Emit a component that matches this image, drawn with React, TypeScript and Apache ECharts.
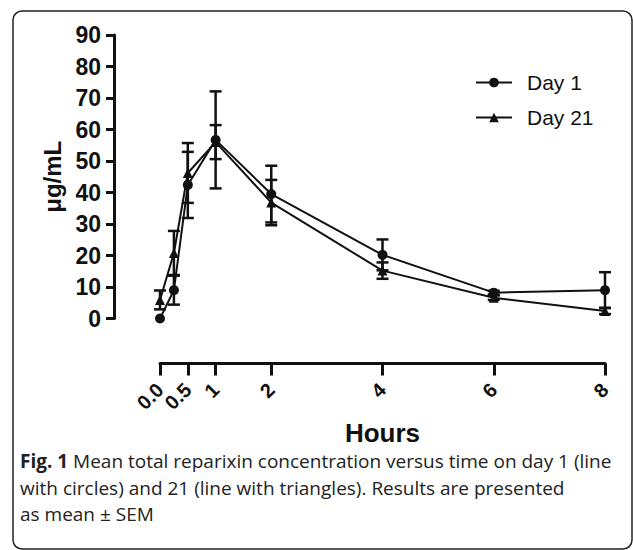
import React, { useEffect, useRef } from "react";
import * as echarts from "echarts";

const hours = [0, 0.25, 0.5, 1, 2, 4, 6, 8];
const day1Mean = [0, 9.0, 42.4, 56.7, 39.5, 20.2, 8.2, 9.0];
const day1Sem = [0, 4.6, 10.5, 15.4, 9.0, 4.9, 0.6, 5.7];
const day21Mean = [5.9, 20.8, 46.2, 56.0, 36.8, 15.2, 6.6, 2.4];
const day21Sem = [3.0, 7.0, 9.5, 5.4, 7.2, 2.6, 0.7, 1.0];
const xTickValues = [0, 0.5, 1, 2, 4, 6, 8];
const xTickLabels = ["0.0", "0.5", "1", "2", "4", "6", "8"];
const seriesNames = ["Day 1", "Day 21"];
const xAxisTitle = "Hours";
const yAxisTitle = "μg/mL";
const captionBold = "Fig. 1";
const captionLines = [
  " Mean total reparixin concentration versus time on day 1 (line",
  "with circles) and 21 (line with triangles). Results are presented",
  "as mean ± SEM",
];

const INK = "#111";
const ARIAL = "'Liberation Sans', Arial, sans-serif";
const CAPTION_FONT = "'Open Sans', 'Noto Sans', sans-serif";

function errData(means: number[], sems: number[]) {
  const out: number[][] = [];
  hours.forEach((h, i) => {
    if (sems[i] > 0) out.push([h, means[i] - sems[i], means[i] + sems[i]]);
  });
  return out;
}

function errorRender(params: any, api: any) {
  const x = api.value(0);
  const lo = api.value(1);
  const hi = api.value(2);
  const top = api.coord([x, hi]);
  const bot = api.coord([x, lo]);
  const w = 6;
  const st = { stroke: INK, lineWidth: 2.5 };
  return {
    type: "group",
    children: [
      { type: "line", shape: { x1: top[0], y1: top[1], x2: bot[0], y2: bot[1] }, style: st },
      { type: "line", shape: { x1: top[0] - w, y1: top[1], x2: top[0] + w, y2: top[1] }, style: st },
      { type: "line", shape: { x1: bot[0] - w, y1: bot[1], x2: bot[0] + w, y2: bot[1] }, style: st },
    ],
  };
}

export default function App() {
  const ref = useRef<HTMLDivElement>(null);
  useEffect(() => {
    if (!ref.current) return;
    const chart = echarts.init(ref.current, undefined, { renderer: "svg" });
    const xLabelMap: Record<string, string> = {};
    xTickValues.forEach((v, i) => (xLabelMap[String(v)] = xTickLabels[i]));
    // split labels over two overlaid axes so that close neighbours are never auto-hidden
    const labelsA = xTickValues.filter((_, i) => i % 2 === 0);
    const labelsB = xTickValues.filter((_, i) => i % 2 === 1);
    const labelBase = {
      showMinLabel: true,
      showMaxLabel: true,
      hideOverlap: false,
      rotate: 45,
      margin: 23,
      fontSize: 20,
      fontWeight: "bold",
      fontFamily: ARIAL,
      color: INK,
      formatter: (v: number) => xLabelMap[String(v)] ?? String(v),
    };
    const capStyle = { fontSize: 19, fontFamily: CAPTION_FONT, fill: "#222", verticalAlign: "middle" };
    chart.setOption({
      animation: false,
      backgroundColor: "#fff",
      grid: { left: 160, right: 28, top: 35, bottom: 231.5, containLabel: false },
      legend: {
        data: seriesNames,
        orient: "vertical",
        left: 470,
        top: 67,
        itemWidth: 36,
        itemHeight: 12,
        itemGap: 14,
        textStyle: { fontSize: 21, fontFamily: ARIAL, color: INK, padding: [0, 0, 0, 10] },
      },
      xAxis: [
        {
          type: "value",
          position: "bottom",
          min: 0,
          max: 8,
          offset: 45,
          name: xAxisTitle,
          nameLocation: "middle",
          nameGap: 54,
          nameTextStyle: { fontSize: 26, fontWeight: "bold", fontFamily: ARIAL, color: INK },
          splitLine: { show: false },
          axisLine: { show: true, onZero: false, lineStyle: { color: INK, width: 3 } },
          axisTick: { show: true, length: 12, lineStyle: { color: INK, width: 3 }, customValues: xTickValues },
          axisLabel: { ...labelBase, customValues: labelsA },
        },
        {
          type: "value",
          position: "bottom",
          min: 0,
          max: 8,
          offset: 45,
          splitLine: { show: false },
          axisLine: { show: false, onZero: false },
          axisTick: { show: false },
          axisLabel: { ...labelBase, customValues: labelsB },
        },
      ],
      yAxis: {
        type: "value",
        min: 0,
        max: 90,
        interval: 10,
        offset: 46,
        name: yAxisTitle,
        nameLocation: "middle",
        nameRotate: 90,
        nameGap: 50,
        nameTextStyle: { fontSize: 24, fontWeight: "bold", fontFamily: ARIAL, color: INK },
        splitLine: { show: false },
        axisLine: { show: true, onZero: false, lineStyle: { color: INK, width: 3 } },
        axisTick: { show: true, length: 8, lineStyle: { color: INK, width: 3 } },
        axisLabel: { margin: 13, fontSize: 23, fontWeight: "bold", fontFamily: ARIAL, color: INK },
      },
      series: [
        {
          name: seriesNames[0],
          type: "line",
          xAxisIndex: 0,
          data: hours.map((h, i) => [h, day1Mean[i]]),
          symbol: "circle",
          symbolSize: 10,
          lineStyle: { color: INK, width: 2 },
          itemStyle: { color: INK },
          z: 3,
        },
        {
          name: seriesNames[1],
          type: "line",
          xAxisIndex: 0,
          data: hours.map((h, i) => [h, day21Mean[i]]),
          symbol: "triangle",
          symbolSize: 10,
          lineStyle: { color: INK, width: 2 },
          itemStyle: { color: INK },
          z: 3,
        },
        {
          name: "err1",
          type: "custom",
          xAxisIndex: 0,
          renderItem: errorRender,
          data: errData(day1Mean, day1Sem),
          encode: { x: 0, y: [1, 2] },
          z: 4,
        },
        {
          name: "err21",
          type: "custom",
          xAxisIndex: 0,
          renderItem: errorRender,
          data: errData(day21Mean, day21Sem),
          encode: { x: 0, y: [1, 2] },
          z: 4,
        },
      ],
      graphic: [
        {
          type: "rect",
          shape: { x: 13, y: 11, width: 619, height: 538, r: 9 },
          style: { fill: "none", stroke: "#222", lineWidth: 1.5 },
          silent: true,
        },
        {
          type: "text",
          x: 20,
          y: 461,
          style: {
            text: "{b|" + captionBold + "}{r|" + captionLines[0] + "}",
            ...capStyle,
            rich: {
              b: { fontWeight: "bold", fontSize: 19, fontFamily: CAPTION_FONT, fill: "#222" },
              r: { fontSize: 19, fontFamily: CAPTION_FONT, fill: "#222" },
            },
          },
        },
        {
          type: "text",
          x: 20,
          y: 488,
          style: { text: captionLines[1], ...capStyle },
        },
        {
          type: "text",
          x: 20,
          y: 514,
          style: { text: captionLines[2], ...capStyle },
        },
      ],
    });
    return () => chart.dispose();
  }, []);
  return (
    <div
      ref={ref}
      style={{ position: "absolute", left: 0, top: 0, width: 633, height: 550 }}
    />
  );
}
